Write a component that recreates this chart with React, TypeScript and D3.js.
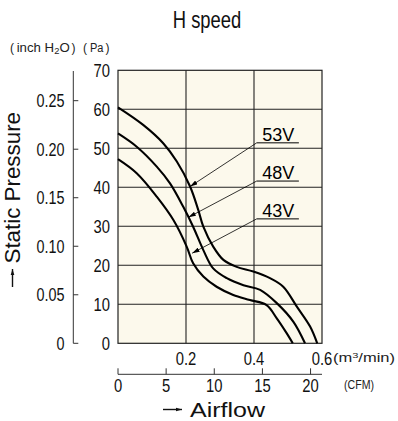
import React from 'react';
import * as d3 from 'd3';

// ---- data ----
const flow53 = [0, 0.074, 0.133, 0.173, 0.212, 0.236, 0.251, 0.28, 0.31, 0.349, 0.398, 0.447, 0.486, 0.526, 0.565, 0.586];
const pres53 = [60.5, 56.0, 51.3, 46.6, 40.2, 34.2, 29.9, 24.8, 21.4, 19.6, 18.4, 16.7, 14.5, 9.4, 4.3, 0];
const flow48 = [0, 0.055, 0.114, 0.153, 0.192, 0.221, 0.251, 0.28, 0.32, 0.369, 0.418, 0.467, 0.516, 0.55];
const pres48 = [53.8, 50.4, 45.3, 41.0, 35.0, 29.9, 23.9, 19.2, 16.7, 14.9, 13.7, 10.3, 5.5, 0];
const flow43 = [0, 0.055, 0.114, 0.163, 0.202, 0.221, 0.251, 0.29, 0.339, 0.388, 0.437, 0.467, 0.496, 0.514];
const pres43 = [47.2, 43.6, 37.6, 31.6, 24.8, 20.5, 17.1, 14.5, 12.4, 11.1, 9.8, 6.4, 2.6, 0];

const voltages = ['53V', '48V', '43V'];
const arrowTipFlow = [0.212, 0.207, 0.218];
const arrowTipPres = [40.2, 32.3, 23.1];
const labelFlowStart = [0.408, 0.408, 0.408];
const labelFlowEnd = [0.532, 0.532, 0.532];
const labelPres = [51.4, 41.6, 31.9];

const paTicks = [0, 10, 20, 30, 40, 50, 60, 70];
const inchTicks = [0, 0.05, 0.1, 0.15, 0.2, 0.25];
const inchLabels = ['0', '0.05', '0.10', '0.15', '0.20', '0.25'];
const m3Grid = [0.2, 0.4];
const m3Ticks = [0.2, 0.4, 0.6];
const cfmTicks = [0, 5, 10, 15, 20];

const PA_PER_INCH = 248.84;
const M3MIN_PER_CFM = 0.0283168;

const SANS = '"Liberation Sans", Arial, sans-serif';

// condensed text: regular font squeezed horizontally around its anchor
function NText(props: { x: number; y: number; anchor?: 'start' | 'middle' | 'end'; size: number; sx?: number; children: React.ReactNode; fill?: string }) {
  const { x, y, anchor = 'start', size, sx = 0.8, children, fill = '#111' } = props;
  return (
    <text transform={`translate(${x},${y}) scale(${sx},1)`} textAnchor={anchor} fontFamily={SANS} fontSize={size} fill={fill}>
      {children}
    </text>
  );
}

export default function App() {
  const W = 398, H = 421;
  const x = d3.scaleLinear().domain([0, 0.6]).range([118, 322]);
  const y = d3.scaleLinear().domain([0, 70]).range([343.3, 70.3]);
  const cfmX = (c: number) => x(c * M3MIN_PER_CFM);

  const line = d3.line<[number, number]>()
    .x(d => x(d[0]))
    .y(d => y(d[1]))
    .curve(d3.curveCatmullRom.alpha(0.5));

  const series = [
    d3.zip(flow53, pres53) as [number, number][],
    d3.zip(flow48, pres48) as [number, number][],
    d3.zip(flow43, pres43) as [number, number][],
  ];

  const inchAxisX = 73.3;
  const cfmAxisY = 374.3;

  return (
    <svg width={W} height={H} style={{ position: 'absolute', left: 0, top: 0, background: '#fff' }}>
      <defs>
        <marker id="ah" viewBox="0 0 10 6" refX="10" refY="3" markerWidth="8" markerHeight="4.5" orient="auto" markerUnits="userSpaceOnUse">
          <path d="M0,0 L10,3 L0,6 Z" fill="#000" />
        </marker>
        <marker id="ah2" viewBox="0 0 10 6" refX="10" refY="3" markerWidth="6" markerHeight="5" orient="auto" markerUnits="userSpaceOnUse">
          <path d="M0,0 L10,3 L0,6 Z" fill="#111" />
        </marker>
      </defs>

      {/* title */}
      <NText x={207} y={28.3} anchor="middle" size={23} sx={0.8}>H speed</NText>

      {/* unit header */}
      <g fontFamily={SANS} fontSize={12} fill="#222">
        <text x={10} y={51.5}>(</text>
        <text x={16.7} y={51.5} textLength={53} lengthAdjust="spacingAndGlyphs">inch H<tspan fontSize={8.5} dy={2}>2</tspan><tspan dy={-2}>O</tspan></text>
        <text x={71.5} y={51.5}>)</text>
        <text x={83} y={51.5}>(</text>
        <text x={90} y={51.5} textLength={13.5} lengthAdjust="spacingAndGlyphs">Pa</text>
        <text x={105.5} y={51.5}>)</text>
      </g>

      {/* plot background */}
      <rect x={x(0)} y={y(70)} width={x(0.6) - x(0)} height={y(0) - y(70)} fill="#fcf9ec" />

      {/* grid */}
      {paTicks.slice(1, -1).map(p => (
        <line key={'h' + p} x1={x(0)} x2={x(0.6)} y1={y(p)} y2={y(p)} stroke="#222" strokeWidth={1.1} />
      ))}
      {m3Grid.map(f => (
        <line key={'v' + f} x1={x(f)} x2={x(f)} y1={y(0)} y2={y(70)} stroke="#222" strokeWidth={1.1} />
      ))}
      <rect x={x(0)} y={y(70)} width={x(0.6) - x(0)} height={y(0) - y(70)} fill="none" stroke="#222" strokeWidth={1.2} />

      {/* curves */}
      {series.map((s, i) => (
        <path key={'c' + i} d={line(s) || ''} fill="none" stroke="#000" strokeWidth={2.1} />
      ))}

      {/* annotations */}
      {voltages.map((v, i) => (
        <g key={v}>
          <line x1={x(labelFlowStart[i])} x2={x(labelFlowEnd[i])} y1={y(labelPres[i])} y2={y(labelPres[i])} stroke="#000" strokeWidth={1} />
          <line x1={x(labelFlowStart[i])} y1={y(labelPres[i])} x2={x(arrowTipFlow[i])} y2={y(arrowTipPres[i])} stroke="#000" strokeWidth={0.8} markerEnd="url(#ah)" />
          <text x={x(labelFlowStart[i]) + 5.5} y={y(labelPres[i]) - 2} fontFamily={SANS} fontSize={18} fill="#000">{v}</text>
        </g>
      ))}

      {/* Pa labels */}
      {paTicks.map(p => (
        <NText key={'pa' + p} x={110} y={y(p) + 6.6} anchor="end" size={18.5} sx={0.8}>{p}</NText>
      ))}

      {/* inch axis */}
      <line x1={inchAxisX} x2={inchAxisX} y1={71} y2={y(0)} stroke="#333" strokeWidth={1} />
      {inchTicks.map((t, i) => (
        <g key={'in' + t}>
          <line x1={inchAxisX} x2={inchAxisX + 5} y1={y(t * PA_PER_INCH)} y2={y(t * PA_PER_INCH)} stroke="#333" strokeWidth={1} />
          <NText x={64.5} y={y(t * PA_PER_INCH) + 6.3} anchor="end" size={18} sx={0.8}>{inchLabels[i]}</NText>
        </g>
      ))}

      {/* m3/min labels */}
      {m3Ticks.map(f => (
        <NText key={'m' + f} x={x(f)} y={365} anchor="middle" size={18.5} sx={0.8}>{f.toFixed(1)}</NText>
      ))}
      <text x={333} y={362} fontFamily={SANS} fontSize={12} fill="#222" textLength={62} lengthAdjust="spacingAndGlyphs">(m<tspan fontSize={8} dy={-4}>3</tspan><tspan dy={4}>/min)</tspan></text>

      {/* CFM axis */}
      <line x1={x(0)} x2={x(0.6)} y1={cfmAxisY} y2={cfmAxisY} stroke="#333" strokeWidth={1} />
      {cfmTicks.map(c => (
        <g key={'cfm' + c}>
          <line x1={cfmX(c)} x2={cfmX(c)} y1={cfmAxisY} y2={cfmAxisY - 6} stroke="#333" strokeWidth={1} />
          <NText x={cfmX(c)} y={391.5} anchor="middle" size={18.5} sx={0.8}>{c}</NText>
        </g>
      ))}
      <text x={344} y={389} fontFamily={SANS} fontSize={12} fill="#222" textLength={30} lengthAdjust="spacingAndGlyphs">(CFM)</text>

      {/* axis titles */}
      <line x1={163} x2={182} y1={409.5} y2={409.5} stroke="#111" strokeWidth={1.4} markerEnd="url(#ah2)" />
      <text x={190} y={416.5} fontFamily={SANS} fontSize={20.5} fill="#111" textLength={75} lengthAdjust="spacingAndGlyphs">Airflow</text>
      <line x1={12.5} x2={12.5} y1={287} y2={269} stroke="#111" strokeWidth={1.4} markerEnd="url(#ah2)" />
      <text transform="translate(20,263.5) rotate(-90)" fontFamily={SANS} fontSize={22} fill="#111" textLength={151.5} lengthAdjust="spacingAndGlyphs">Static Pressure</text>
    </svg>
  );
}
